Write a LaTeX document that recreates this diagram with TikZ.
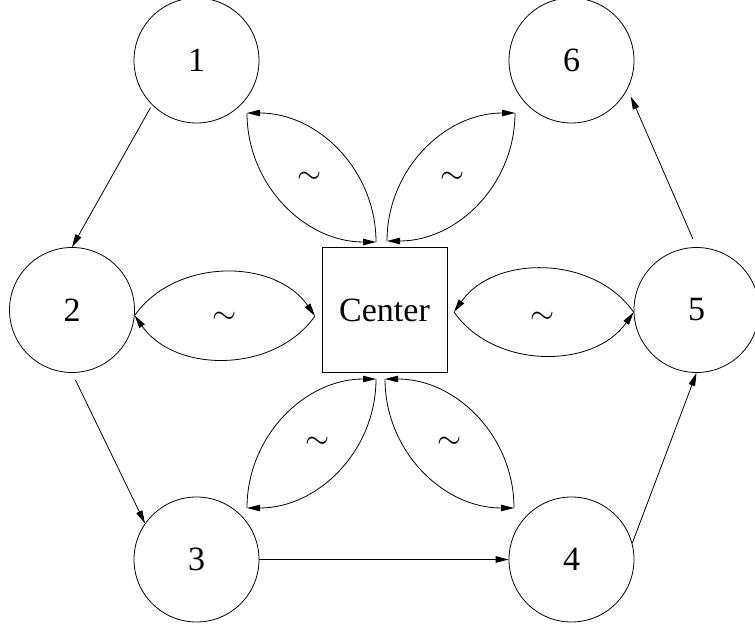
\documentclass[tikz,border=0pt]{standalone}
\usepackage{graphicx}
\usepackage{fontspec}
\setmainfont{Liberation Serif}
\usetikzlibrary{arrows.meta}

\newcommand{\wavy}{\scalebox{3.1}{$\sim$}}

\begin{document}
\begin{tikzpicture}[x=1pt,y=1pt,line width=0.8pt,
  vtx/.style={draw,circle,minimum size=125pt,inner sep=0pt,font=\fontsize{34}{40}\selectfont},
  hub/.style={draw,rectangle,minimum size=125pt,inner sep=0pt,font=\fontsize{34}{40}\selectfont},
  tip/.style={-{Triangle[length=13pt,width=6.5pt]}},
  wave/.style={inner sep=0pt}]
\useasboundingbox (0,0) rectangle (755,632);
\node[vtx] (n1) at (196.5,571.5) {1};
\node[vtx] (n6) at (571.5,571.5) {6};
\node[vtx] (n2) at (72,322) {2};
\node[hub] (ctr) at (384.5,322) {Center};
\node[vtx] (n5) at (696.5,322) {5};
\node[vtx] (n3) at (196.5,72.5) {3};
\node[vtx] (n4) at (571.5,72.5) {4};
\draw[tip,shorten <=3pt] (n1.225) -- (n2.north);
\draw[tip,shorten <=8pt] (n2.south) -- (n3.145);
\draw[tip] (n3.east) -- (n4.west);
\draw[tip] (n4.15) -- (n5.south);
\draw[tip,shorten <=9pt,shorten >=8pt] (n5.north) -- (n6.-27);
\coordinate (tl1) at (247,519);
\coordinate (tl2) at (376,390);
\coordinate (tr1) at (515,519);
\coordinate (tr2) at (387,391);
\coordinate (bl1) at (247,124);
\coordinate (bl2) at (376,253);
\coordinate (br1) at (514,124);
\coordinate (br2) at (385,253);
\coordinate (lf) at (315,316);
\coordinate (rt) at (454,320);
\draw[tip] (tl2) to[out=90,in=0] (tl1);
\draw[tip] (tl1) to[out=-90,in=180] (tl2);
\draw[tip] (tr2) to[out=90,in=180] (tr1);
\draw[tip] (tr1) to[out=-90,in=0] (tr2);
\draw[tip] (bl1) to[out=90,in=180] (bl2);
\draw[tip] (bl2) to[out=-90,in=0] (bl1);
\draw[tip] (br1) to[out=90,in=0] (br2);
\draw[tip] (br2) to[out=-90,in=180] (br1);
\draw[tip] (n2.-5) to[bend left=55] (lf);
\draw[tip] (lf) to[bend left=55] (n2.-5);
\draw[tip] (n5.182) to[bend right=55] (rt);
\draw[tip] (rt) to[bend right=55] (n5.182);
\node[wave] (w1) at (310,454) {\wavy};
\node[wave] (w2) at (453,454) {\wavy};
\node[wave] (w3) at (225,314) {\wavy};
\node[wave] (w4) at (543,314) {\wavy};
\node[wave] (w5) at (318,189) {\wavy};
\node[wave] (w6) at (450,189) {\wavy};
\end{tikzpicture}
\end{document}
